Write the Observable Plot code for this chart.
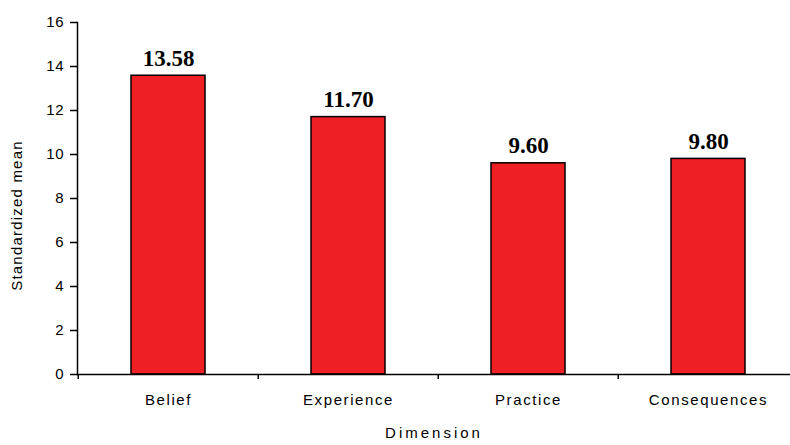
<!DOCTYPE html>
<html>
<head>
<meta charset="utf-8">
<script src="https://cdn.jsdelivr.net/npm/d3@7"></script>
<script src="https://cdn.jsdelivr.net/npm/@observablehq/plot@0.6"></script>
<style>
  html, body { margin: 0; padding: 0; background: #fff; }
  #chart svg { display: block; }
  #chart g[aria-label="x-axis tick label"] text { letter-spacing: 1.6px; }
  #chart g[aria-label="y-axis tick label"] text { letter-spacing: 0.8px; }
  #chart .x-title text, #chart text.x-title { letter-spacing: 3px; }
  #chart .y-title text, #chart text.y-title { letter-spacing: 1.2px; }
</style>
</head>
<body>
<div id="chart"></div>
<script>
const categories = ["Belief", "Experience", "Practice", "Consequences"];
const values = [13.58, 11.70, 9.60, 9.80];
const valueLabels = ["13.58", "11.70", "9.60", "9.80"];
const yTicks = [0, 2, 4, 6, 8, 10, 12, 14, 16];
const xTitle = "Dimension";
const yTitle = "Standardized mean";

const data = categories.map((c, i) => ({category: c, value: values[i], label: valueLabels[i]}));
const step = (799 - 77) / categories.length;

const sans = "'Liberation Sans', Arial, sans-serif";

const chart = Plot.plot({
  width: 790,
  height: 445,
  marginLeft: 77,
  marginRight: 0,
  marginTop: 22,
  marginBottom: 71,
  style: {fontFamily: sans, fontSize: "15px", color: "#000", background: "#fff", overflow: "visible"},
  x: {domain: categories, range: [77, 799], paddingInner: 0.59, paddingOuter: 0.295, label: null},
  y: {domain: [0, 16], label: null},
  marks: [
    Plot.barY(data, {x: "category", y: "value", fill: "#ee1f25", stroke: "#000", strokeWidth: 1.5}),
    Plot.frame({anchor: "left", stroke: "#000", strokeWidth: 1.5}),
    Plot.frame({anchor: "bottom", stroke: "#000", strokeWidth: 1.5}),
    Plot.ruleX(categories, {x: d => d, dx: -step / 2, y1: 0, y2: 0, insetBottom: -5, stroke: "#000", strokeWidth: 1.5}),
    Plot.axisY({ticks: yTicks, tickSize: 7, tickPadding: 6, tickFormat: d => String(d), stroke: "#000", strokeWidth: 1.5, fontSize: 15, label: null}),
    Plot.axisX({tickSize: 0, tickPadding: 20, fontSize: 15, label: null}),
    Plot.text(data, {x: "category", y: "value", text: "label", dy: -10, lineAnchor: "bottom",
      fontFamily: "'Liberation Serif', 'Times New Roman', serif", fontWeight: "bold", fontSize: 23, fill: "#000"}),
    Plot.text([xTitle], {frameAnchor: "bottom", dy: 63, fontSize: 15, fill: "#000"}),
    Plot.text([yTitle], {frameAnchor: "left", textAnchor: "middle", dx: -60, dy: 17, rotate: -90, fontSize: 15, fill: "#000"})
  ]
});
// tag the two title marks (last two mark groups) so CSS can space their letters
const groups = chart.querySelectorAll(":scope > g[aria-label='text']");
if (groups.length >= 3) {
  groups[groups.length - 2].classList.add("x-title");
  groups[groups.length - 1].classList.add("y-title");
}
document.getElementById("chart").appendChild(chart);
</script>
</body>
</html>
